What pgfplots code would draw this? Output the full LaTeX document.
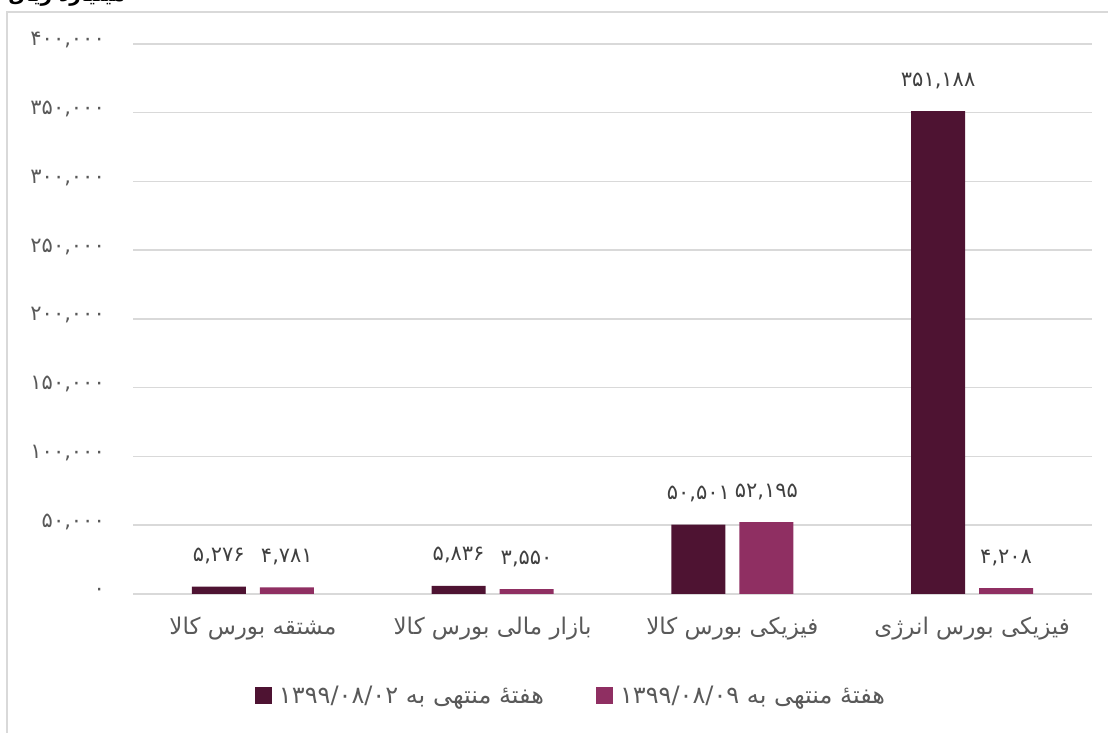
\documentclass[border=0pt]{standalone}
\usepackage{pgfplots}
\pgfplotsset{compat=1.18}
\usepackage{fontspec}
\setmainfont{DejaVu Sans}
\newfontfamily\arabicfont[Script=Arabic]{DejaVu Sans}
\TeXXeTstate=1
\definecolor{darkc}{RGB}{78,19,50}
\definecolor{pinkc}{RGB}{143,47,98}
\definecolor{gridc}{RGB}{217,217,217}
\definecolor{labc}{RGB}{89,89,89}
\definecolor{datac}{RGB}{64,64,64}
\newcommand{\pf}{\arabicfont\fontsize{21}{25}\selectfont}
\newcommand{\cf}{\arabicfont\fontsize{23}{27}\selectfont}
\newcommand{\lf}{\arabicfont\fontsize{24}{28}\selectfont}
\begin{document}
\begin{tikzpicture}
\useasboundingbox (0,0) rectangle (1108pt,733pt);
\draw[gridc, line width=1.5pt] (1120pt,721pt) -- (7pt,721pt) -- (7pt,-10pt);
\node[anchor=base west, inner sep=0pt, font=\arabicfont\bfseries\fontsize{20}{24}\selectfont] at (8pt,731pt) {\beginR میلیارد ریال\endR};
\begin{axis}[
  at={(133pt,139pt)}, anchor=south west,
  scale only axis, width=959pt, height=550pt,
  xmin=-0.5, xmax=3.5, ymin=0, ymax=400000,
  enlargelimits=false, clip=false,
  axis line style={draw=none},
  major tick length=0pt, tick style={draw=none},
  ymajorgrids, grid style={gridc, line width=1.5pt},
  ybar=14pt, bar width=54pt,
  xtick={0,1,2,3},
  xticklabels={{\beginR مشتقه بورس کالا\endR},{\beginR بازار مالی بورس کالا\endR},{\beginR فیزیکی بورس کالا\endR},{\beginR فیزیکی بورس انرژی\endR}},
  ytick={0,50000,100000,150000,200000,250000,300000,350000,400000},
  yticklabels={{۰},{۵۰,۰۰۰},{۱۰۰,۰۰۰},{۱۵۰,۰۰۰},{۲۰۰,۰۰۰},{۲۵۰,۰۰۰},{۳۰۰,۰۰۰},{۳۵۰,۰۰۰},{۴۰۰,۰۰۰}},
  scaled y ticks=false,
  yticklabel style={font=\pf, text=labc, anchor=base east, inner sep=0pt, xshift=-28pt, yshift=-2pt},
  xticklabel style={font=\cf, text=labc, anchor=base, inner sep=0pt, yshift=-41pt},
  point meta=explicit symbolic,
  nodes near coords={\pgfplotspointmeta},
  nodes near coords style={font=\pf, text=datac, anchor=base, inner sep=0pt, yshift=25pt},
  legend image code/.code={\fill[#1] (0pt,-8.5pt) rectangle (17pt,8.5pt);},
  legend columns=2,
  legend style={draw=none, fill=none, at={(0.127,-0.184)}, anchor=west, font=\lf, text=labc, inner sep=0pt,
    nodes={inner xsep=7pt},
    /tikz/every even column/.append style={column sep=45pt}},
]
\addplot[fill=darkc, draw=none] table[x=x, y=y, meta=lab] {
x y lab
0 5276 ۵,۲۷۶
1 5836 ۵,۸۳۶
2 50501 ۵۰,۵۰۱
3 351188 ۳۵۱,۱۸۸
};
\addplot[fill=pinkc, draw=none] table[x=x, y=y, meta=lab] {
x y lab
0 4781 ۴,۷۸۱
1 3550 ۳,۵۵۰
2 52195 ۵۲,۱۹۵
3 4208 ۴,۲۰۸
};
\addlegendentry{\beginR هفتهٔ منتهی به \beginL۱۳۹۹/۰۸/۰۲\endL\endR}
\addlegendentry{\beginR هفتهٔ منتهی به \beginL۱۳۹۹/۰۸/۰۹\endL\endR}
\end{axis}
\end{tikzpicture}
\end{document}
